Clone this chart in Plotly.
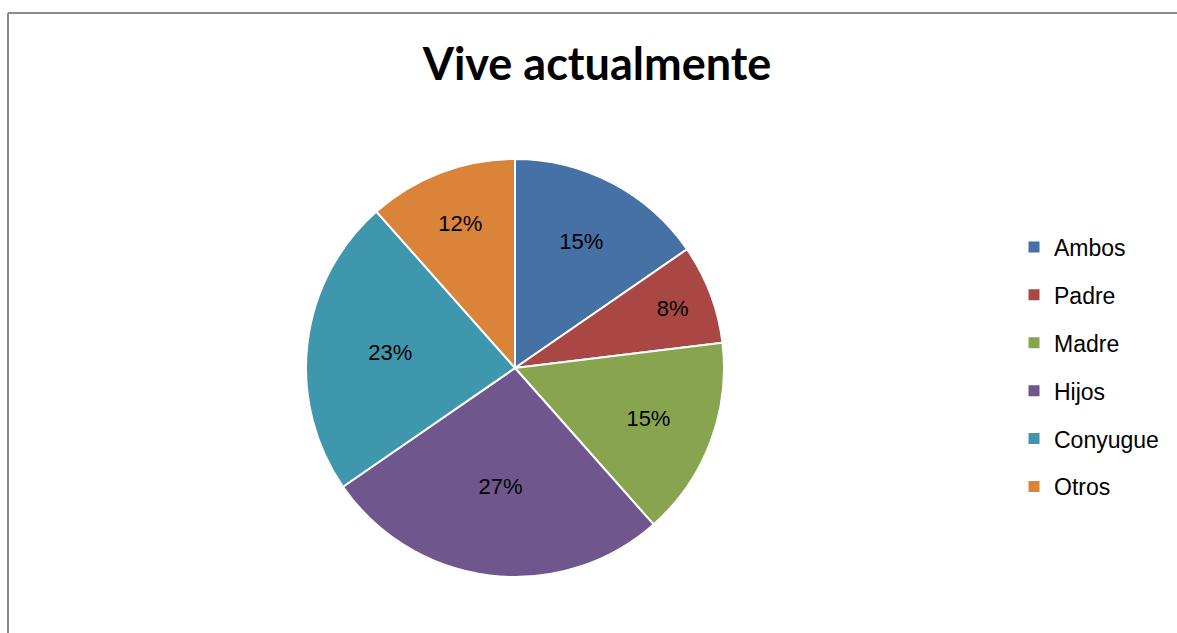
import plotly.graph_objects as go

categorias = ["Ambos", "Padre", "Madre", "Hijos", "Conyugue", "Otros"]
valores = [4, 2, 4, 7, 6, 3]
colores = ["#4671A5", "#A94744", "#88A44F", "#6F568C", "#3F97AE", "#DA843A"]

W, H = 1177, 633
fuente = "Liberation Sans, Arial"

fig = go.Figure()
fig.add_trace(go.Pie(
    labels=categorias, values=valores, sort=False, direction="clockwise", rotation=0,
    marker=dict(colors=colores, line=dict(color="white", width=2)),
    textinfo="percent", textposition="inside", insidetextorientation="horizontal",
    texttemplate="%{percent:.0%}",
    textfont=dict(family=fuente, size=22, color="black"),
    domain=dict(x=[306 / W, 724 / W], y=[(H - 578) / H, (H - 158) / H]),
    showlegend=False, hoverinfo="label+percent+value",
))

# leyenda con cuadrados, una entrada por categoria
for cat, col in zip(categorias, colores):
    fig.add_trace(go.Scatter(x=[None], y=[None], mode="markers", name=cat, legendgroup=cat,
                             marker=dict(symbol="square", size=11, color=col)))

fig.update_xaxes(visible=False)
fig.update_yaxes(visible=False)

# marco gris
fig.add_shape(type="line", xref="paper", yref="paper", x0=8 / W, x1=1.01, y0=(H - 13) / H, y1=(H - 13) / H,
              line=dict(color="#8a8a8a", width=2))
fig.add_shape(type="line", xref="paper", yref="paper", x0=8 / W, x1=8 / W, y0=-0.01, y1=(H - 13) / H,
              line=dict(color="#8a8a8a", width=2))

fig.update_layout(
    width=W, height=H,
    margin=dict(l=0, r=0, t=0, b=0),
    paper_bgcolor="white", plot_bgcolor="white",
    title=dict(text="<b>Vive actualmente</b>", x=597 / W, xanchor="center", y=1 - 64 / H, yanchor="middle",
               font=dict(family="Lato", size=45, color="black")),
    legend=dict(x=1014 / W, y=(H - 367) / H, xanchor="left", yanchor="middle", tracegroupgap=15,
                font=dict(family=fuente, size=23, color="black"), itemwidth=30),
)

fig.write_html("out.html", config={"displayModeBar": False},
               post_script="document.body.style.margin='0px';")
